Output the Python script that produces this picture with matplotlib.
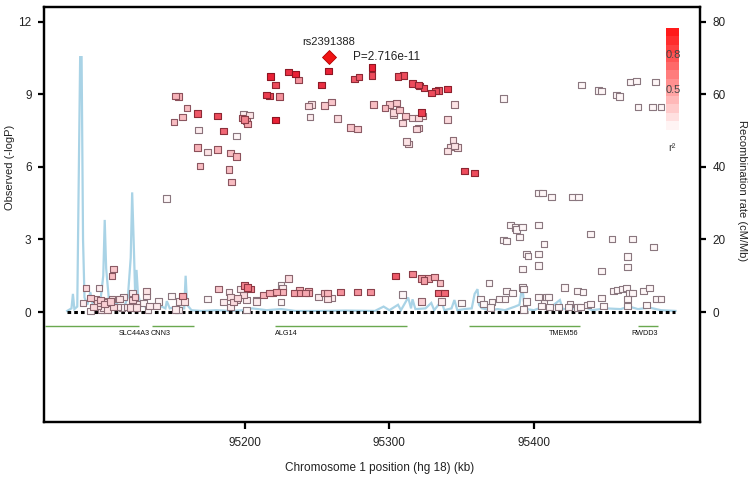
import numpy as np
import matplotlib
matplotlib.use("Agg")
import matplotlib.pyplot as plt
from matplotlib.colors import LinearSegmentedColormap, to_rgb

plt.rcParams['font.family'] = ['Liberation Sans', 'DejaVu Sans']

# ---------------- data ----------------
snp_pos = [
    95146, 95152, 95154, 95151, 95157, 95160, 95167, 95168, 95167, 95169, 95174, 95181, 95181, 95185,
    95190, 95194, 95189, 95191, 95194, 95199, 95203, 95198, 95200, 95201, 95202,
    95215, 95217, 95218, 95221, 95224, 95221, 95230, 95235, 95237, 95244, 95246, 95245, 95253,
    95255, 95260, 95258, 95264, 95273, 95278, 95276, 95279, 95288, 95288, 95289,
    95306, 95310, 95316, 95320, 95321, 95324, 95329, 95332, 95334, 95340,
    95297, 95300, 95305, 95303, 95303, 95307, 95309, 95311, 95316, 95320, 95323, 95322, 95319, 95320,
    95345, 95340, 95312, 95313, 95344, 95342, 95340, 95345, 95347, 95352, 95359, 95379,
    95433, 95445, 95447, 95457, 95459, 95467, 95471, 95484, 95472, 95482, 95488,
    95403, 95406, 95412, 95427, 95431, 95384, 95387, 95388, 95392, 95403, 95439, 95454, 95468,
    95379, 95381, 95390, 95395, 95396, 95403, 95407, 95403, 95392, 95483, 95465, 95465, 95447,
    95304, 95316, 95322, 95324, 95327, 95331, 95335, 95334, 95338, 95309, 95322, 95336, 95350,
    95369, 95363, 95365, 95371, 95376, 95380, 95370, 95381, 95385, 95392, 95393, 95395, 95393,
    95403, 95407, 95409, 95410, 95405, 95411, 95417, 95421, 95425, 95424, 95430, 95432, 95430,
    95434, 95437, 95439, 95447, 95448, 95455, 95458, 95461, 95464, 95466, 95468, 95465, 95465,
    95476, 95480, 95478, 95485, 95488,
    95230, 95225, 95200, 95202, 95204, 95213, 95217, 95219, 95222, 95226, 95226, 95225, 95208,
    95234, 95238, 95237, 95242, 95244, 95244, 95251, 95255, 95257, 95257, 95260, 95266, 95278, 95287,
    95109, 95108, 95090, 95099, 95088, 95093, 95093, 95097, 95100, 95102, 95104, 95107, 95108,
    95095, 95098, 95102, 95105, 95109, 95103, 95098, 95101, 95116, 95113, 95112, 95115, 95119,
    95121, 95122, 95122, 95124, 95125, 95125, 95132, 95132, 95130, 95134, 95133, 95139, 95140,
    95149, 95157, 95155, 95158, 95154, 95152, 95174, 95182, 95185, 95189, 95190, 95192, 95190,
    95194, 95195, 95197, 95199, 95201, 95201, 95208,
]
snp_logp = [
    4.68, 8.94, 8.90, 7.86, 8.07, 8.44, 8.20, 7.53, 6.79, 6.04, 6.62, 8.11, 6.74, 7.49,
    6.58, 6.45, 5.90, 5.38, 7.28, 8.19, 8.15, 8.03, 7.98, 7.90, 7.78,
    8.98, 8.94, 9.76, 9.39, 8.90, 7.94, 9.93, 9.85, 9.60, 8.52, 8.60, 8.07, 9.39,
    8.56, 8.69, 9.97, 8.00, 7.62, 7.57, 9.64, 9.72, 9.80, 10.13, 8.60,
    9.76, 9.80, 9.47, 9.39, 9.35, 9.27, 9.06, 9.14, 9.18, 9.23,
    8.44, 8.60, 8.65, 8.27, 8.15, 8.36, 7.82, 8.11, 8.03, 8.03, 8.11, 8.27, 7.57, 7.61,
    8.60, 7.98, 7.07, 6.95, 7.12, 6.83, 6.66, 6.87, 6.79, 5.83, 5.75, 8.85,
    9.39, 9.18, 9.14, 8.98, 8.90, 9.52, 9.56, 9.52, 8.48, 8.48, 8.48,
    4.92, 4.92, 4.76, 4.76, 4.76, 3.60, 3.48, 3.43, 3.52, 3.60, 3.23, 3.02, 3.02,
    2.98, 2.94, 3.10, 2.40, 2.32, 2.40, 2.81, 1.94, 1.78, 2.69, 2.28, 1.86, 1.70,
    1.49, 1.57, 1.37, 1.32, 1.37, 1.45, 1.20, 0.79, 0.79, 0.74, 0.45, 0.45, 0.37,
    1.20, 0.54, 0.33, 0.41, 0.54, 0.54, 0.17, 0.87, 0.79, 1.03, 0.95, 0.45, 0.12,
    0.62, 0.37, 0.62, 0.62, 0.25, 0.21, 0.21, 1.03, 0.33, 0.21, 0.17, 0.21, 0.87,
    0.83, 0.29, 0.33, 0.58, 0.25, 0.87, 0.91, 0.95, 0.99, 0.79, 0.79, 0.54, 0.25,
    0.87, 0.99, 0.29, 0.54, 0.54,
    1.37, 1.08, 1.08, 1.03, 0.95, 0.70, 0.79, 0.79, 0.83, 0.83, 0.99, 0.41, 0.50,
    0.79, 0.91, 0.79, 0.79, 0.87, 0.79, 0.62, 0.79, 0.79, 0.54, 0.58, 0.83, 0.83, 0.83,
    1.78, 1.49, 0.99, 0.99, 0.37, 0.04, 0.58, 0.54, 0.50, 0.45, 0.41, 0.45, 0.54,
    0.21, 0.25, 0.17, 0.12, 0.21, 0.33, 0.37, 0.08, 0.62, 0.54, 0.21, 0.17, 0.21,
    0.17, 0.79, 0.50, 0.62, 0.33, 0.17, 0.87, 0.66, 0.37, 0.25, 0.08, 0.25, 0.45,
    0.66, 0.66, 0.45, 0.45, 0.08, 0.12, 0.54, 0.95, 0.41, 0.83, 0.62, 0.41, 0.21,
    0.50, 0.58, 0.95, 0.70, 0.50, 0.08, 0.45,
]
snp_r2 = [
    0.05, 0.40, 0.40, 0.35, 0.35, 0.35, 0.75, 0.10, 0.40, 0.35, 0.15, 0.80, 0.40, 0.70,
    0.35, 0.40, 0.35, 0.35, 0.05, 0.10, 0.15, 0.50, 0.60, 0.40, 0.45,
    0.85, 0.80, 0.95, 0.80, 0.55, 0.95, 0.90, 0.95, 0.55, 0.20, 0.15, 0.10, 0.90,
    0.30, 0.30, 0.95, 0.20, 0.30, 0.30, 0.75, 0.75, 0.80, 0.95, 0.35,
    0.80, 0.80, 0.80, 0.80, 0.75, 0.80, 0.80, 0.80, 0.75, 0.85,
    0.35, 0.30, 0.30, 0.20, 0.15, 0.30, 0.20, 0.30, 0.15, 0.20, 0.15, 0.85, 0.20, 0.20,
    0.15, 0.20, 0.15, 0.15, 0.15, 0.15, 0.15, 0.15, 0.15, 0.80, 0.80, 0.05,
    0.05, 0.05, 0.05, 0.05, 0.05, 0.05, 0.05, 0.05, 0.05, 0.05, 0.05,
    0.05, 0.05, 0.05, 0.05, 0.05, 0.05, 0.05, 0.05, 0.05, 0.05, 0.05, 0.05, 0.05,
    0.05, 0.05, 0.05, 0.05, 0.05, 0.05, 0.05, 0.05, 0.05, 0.05, 0.05, 0.05, 0.05,
    0.75, 0.60, 0.50, 0.50, 0.45, 0.45, 0.35, 0.70, 0.70, 0.05, 0.25, 0.10, 0.05,
    0.05, 0.05, 0.05, 0.05, 0.05, 0.05, 0.05, 0.05, 0.05, 0.05, 0.05, 0.05, 0.05,
    0.05, 0.05, 0.05, 0.05, 0.05, 0.05, 0.05, 0.05, 0.05, 0.05, 0.05, 0.05, 0.05,
    0.05, 0.05, 0.05, 0.05, 0.05, 0.05, 0.05, 0.05, 0.05, 0.05, 0.05, 0.05, 0.05,
    0.05, 0.05, 0.05, 0.05, 0.05,
    0.20, 0.05, 0.60, 0.65, 0.60, 0.40, 0.45, 0.40, 0.45, 0.40, 0.10, 0.05, 0.10,
    0.50, 0.40, 0.50, 0.45, 0.40, 0.45, 0.10, 0.35, 0.40, 0.15, 0.10, 0.55, 0.55, 0.55,
    0.30, 0.35, 0.20, 0.10, 0.10, 0.05, 0.25, 0.20, 0.25, 0.15, 0.20, 0.25, 0.15,
    0.20, 0.15, 0.10, 0.15, 0.20, 0.25, 0.20, 0.10, 0.10, 0.15, 0.10, 0.05, 0.10,
    0.15, 0.10, 0.20, 0.25, 0.10, 0.15, 0.15, 0.10, 0.05, 0.10, 0.05, 0.10, 0.05,
    0.05, 0.45, 0.10, 0.15, 0.05, 0.10, 0.05, 0.30, 0.10, 0.10, 0.15, 0.20, 0.10,
    0.15, 0.20, 0.10, 0.20, 0.10, 0.05, 0.10,
]

top_snp = "rs2391388"
top_pos = 95258
top_logp = 10.57
top_p_label = "P=2.716e-11"

rec_pos = [
    95077, 95080, 95081, 95082, 95084, 95085, 95086, 95087, 95088, 95089, 95091, 95093, 95095,
    95098, 95100, 95102, 95103, 95104, 95106, 95108, 95111, 95114, 95117, 95119, 95121, 95122,
    95123, 95124, 95125, 95126, 95128, 95131, 95135, 95140, 95145, 95146, 95148, 95153, 95157,
    95158, 95159, 95160, 95163, 95170, 95180, 95190, 95200, 95205, 95215, 95225, 95235, 95250,
    95270, 95290, 95296, 95300, 95306, 95308, 95313, 95315, 95316, 95318, 95325, 95329, 95331,
    95336, 95338, 95343, 95345, 95347, 95352, 95357, 95359, 95361, 95362, 95364, 95370, 95375,
    95380, 95387, 95390, 95392, 95393, 95395, 95400, 95407, 95410, 95418, 95420, 95428, 95435,
    95440, 95450, 95460, 95466, 95472, 95480, 95488, 95498,
]
rec_rate = [
    0.3, 1.0, 5.0, 0.8, 1.5, 36.0, 70.3, 70.3, 20.0, 4.0, 2.0, 5.5, 1.5,
    2.0, 3.0, 10.0, 25.4, 12.0, 3.0, 1.5, 2.5, 1.0, 2.0, 4.0, 15.0, 33.0,
    20.0, 6.0, 11.6, 5.0, 2.0, 1.5, 1.0, 2.0, 1.0, 3.0, 1.0, 1.5, 1.0,
    1.0, 10.0, 2.0, 0.5, 0.3, 0.5, 0.3, 0.5, 1.0, 0.5, 0.8, 0.3, 0.3,
    0.4, 0.3, 1.5, 0.5, 2.0, 0.5, 4.0, 1.0, 3.5, 0.8, 1.0, 2.5, 0.5,
    3.0, 0.5, 1.0, 3.3, 0.5, 0.8, 1.0, 5.0, 6.3, 2.0, 1.0, 0.5, 0.8,
    0.5, 1.5, 2.0, 7.4, 3.0, 0.8, 0.5, 1.5, 0.8, 3.3, 0.8, 1.0, 1.5,
    0.5, 1.0, 0.8, 1.5, 0.8, 1.2, 0.5, 0.3,
]

gene_names = ["SLC44A3", "CNN3", "ALG14", "TMEM56", "RWDD3"]
gene_start = [95062, 95136, 95221, 95355, 95472]
gene_end = [95127, 95165, 95312, 95432, 95486]
gene_label_x = [95134, 95135, 95221, 95431, 95486]
gene_label_ha = ["right", "left", "left", "right", "right"]

region_start, region_end = 95077, 95498
x_ticks = [95200, 95300, 95400]
y_ticks = [0, 3, 6, 9, 12]
rec_ticks = [0, 20, 40, 60, 80]
legend_labels = ["0.8", "0.5"]

# ---------------- figure ----------------
fig = plt.figure(figsize=(7.5, 4.78), dpi=100)
ax = fig.add_axes([0.0587, 0.1172, 0.8747, 0.8682])
ax2 = ax.twinx()
ax.set_zorder(ax2.get_zorder() + 1)
ax.patch.set_visible(False)

ylo, yhi = -4.55, 12.62
ax.set_xlim(95061, 95515)
ax.set_ylim(ylo, yhi)
ax2.set_ylim(ylo * 80 / 12, yhi * 80 / 12)

# recombination rate
ax2.plot(rec_pos, rec_rate, color="#a9d3e6", lw=1.6, solid_joinstyle="miter", zorder=1)

# colors by r2
cmap = LinearSegmentedColormap.from_list("r2", ["#ffffff", "#f5a0a8", "#e8142a"])
r2 = np.array(snp_r2)
fills = cmap(r2)
gray = np.array(to_rgb("#8a7c84"))
dred = np.array(to_rgb("#8e0f1c"))
edges = gray[None, :] * (1 - r2[:, None]) + dred[None, :] * r2[:, None]

order = np.argsort(r2)
ax.scatter(np.array(snp_pos)[order], np.array(snp_logp)[order], marker="s", s=24,
           c=fills[order], edgecolors=edges[order], linewidths=0.8, zorder=3)

# top SNP
ax.plot([top_pos], [top_logp], marker="D", ms=7.2, color="#f01414", mec="#b00000",
        mew=0.6, zorder=4, ls="none")
ax.text(top_pos, top_logp + 0.6, top_snp, ha="center", va="center", fontsize=8, color="#222222")
ax.text(95275, top_logp, top_p_label, ha="left", va="center", fontsize=8.5, color="#222222")

# baseline marker line
ax.hlines(0, region_start, region_end, colors="black", lw=2.2,
          linestyles=(0, (1.2, 1.0)), zorder=2)

# genes
for name, s, e, lx, ha in zip(gene_names, gene_start, gene_end, gene_label_x, gene_label_ha):
    ax.hlines(-0.58, s, e, colors="#6aa84f", lw=1.0, zorder=2)
    ax.text(lx, -0.9, name, ha=ha, va="center", fontsize=5.2, color="#111111")

# axes styling
for a in (ax, ax2):
    for sp in a.spines.values():
        sp.set_linewidth(1.6)
ax.set_xticks(x_ticks)
ax.set_xticklabels([str(t) for t in x_ticks], fontsize=8.5, color="#222222")
ax.set_yticks(y_ticks)
ax.set_yticklabels([str(t) for t in y_ticks], fontsize=8.5, color="#222222")
ax2.set_yticks(rec_ticks)
ax2.set_yticklabels([str(t) for t in rec_ticks], fontsize=8.5, color="#222222")
ax.tick_params(axis="x", length=5, width=1.6, pad=6)
ax.tick_params(axis="y", length=4, width=1.6, pad=5)
ax2.tick_params(axis="y", length=4, width=1.6, pad=5)

fig.text(10 / 750, 1 - 167 / 478, "Observed (-logP)", rotation=90, ha="center", va="center",
         fontsize=8, color="#222222")
fig.text(742 / 750, 1 - 191 / 478, "Recombination rate (cM/Mb)", rotation=270, ha="center",
         va="center", fontsize=8, color="#222222")
fig.text(380 / 750, 1 - 468 / 478, "Chromosome 1 position (hg 18) (kb)", ha="center",
         va="center", fontsize=8.5, color="#222222")

# r2 legend bar
lax = fig.add_axes([666 / 750, 1 - 130 / 478, 13 / 750, 102 / 478])
levels = np.linspace(1.0, 0.05, 12)[:, None]
lcmap = LinearSegmentedColormap.from_list("leg", ["#ffffff", "#ff1a1a"])
lax.imshow(levels, cmap=lcmap, vmin=0, vmax=1, aspect="auto", interpolation="nearest")
lax.set_axis_off()
fig.text(681 / 750, 1 - 55 / 478, legend_labels[0], ha="right", va="center", fontsize=8, color="#444444")
fig.text(681 / 750, 1 - 90 / 478, legend_labels[1], ha="right", va="center", fontsize=8, color="#444444")
fig.text(672 / 750, 1 - 148 / 478, "r²", ha="center", va="center", fontsize=8, color="#444444")

fig.savefig("out.png", dpi=100)
